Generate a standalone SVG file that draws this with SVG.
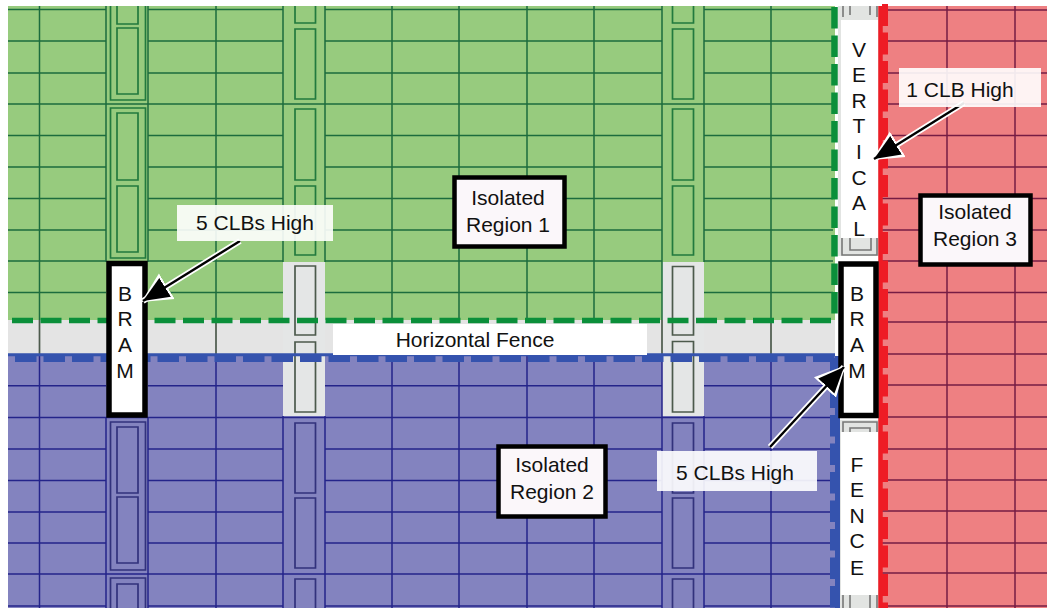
<svg xmlns="http://www.w3.org/2000/svg" width="1047" height="608" viewBox="0 0 1047 608">
<style>
text{font-family:"Liberation Sans",Arial,sans-serif;font-size:21px;fill:#111;text-anchor:middle}
.gl{fill:none;stroke:#1c6c3e;stroke-width:1.5}
.bl{fill:none;stroke:#24248a;stroke-width:1.5}
.rl{fill:none;stroke:#761c44;stroke-width:1.5}
.gb{fill:none;stroke:#227a3e;stroke-width:1.7}
.bb{fill:none;stroke:#32327c;stroke-width:1.7}
.kb{fill:none;stroke:#4c5a4c;stroke-width:1.7}
.fr{fill:none;stroke:#777;stroke-width:1.6}
.lab{fill:#fff;fill-opacity:.9}
.box{fill:#fbf7fa;stroke:#000;stroke-width:4.5}
.blk{fill:#fff;stroke:#000;stroke-width:5.5}
.halo{stroke:#fff;stroke-width:6;fill:none}
.ar{stroke:#000;stroke-width:2.4;fill:none;marker-end:url(#h)}
</style>
<defs>
<marker id="h" markerUnits="userSpaceOnUse" markerWidth="28" markerHeight="24" refX="26" refY="11" orient="auto"><path d="M0 0L26 11L0 22Z" fill="#000"/></marker>
<marker id="hw" markerUnits="userSpaceOnUse" markerWidth="34" markerHeight="34" refX="28" refY="16" orient="auto"><path d="M0 1L30 16L0 31Z" fill="#fff"/></marker>
</defs>
<rect width="1047" height="608" fill="#fff"/>
<g id="regions">
<rect x="8" y="6" width="827" height="314" fill="#97cb7e"/>
<rect x="8" y="320" width="827" height="36" fill="#e4e4e4"/>
<rect x="8" y="356" width="827" height="252" fill="#8383bf"/>
<rect x="880" y="6" width="167" height="602" fill="#ee8082"/>
<rect x="283" y="262" width="42" height="154" fill="#e4e6e6"/>
<rect x="662" y="262" width="42" height="154" fill="#e4e6e6"/>
</g>
<g id="grid">
<path class="gl" d="M8 9.5H106M148 9.500H283M325 9.500H662M704 9.500H833M8 41H106M148 41H283M325 41H662M704 41H833M8 73H106M148 73H283M325 73H662M704 73H833M8 104H833M8 135.500H106M148 135.500H283M325 135.500H662M704 135.500H833M8 167H106M148 167H283M325 167H662M704 167H833M8 198.500H106M148 198.500H283M325 198.500H662M704 198.500H833M8 230H106M148 230H283M325 230H662M704 230H833M8 261H106M148 261H283M325 261H662M704 261H833M8 292.500H106M148 292.500H283M325 292.500H662M704 292.500H833"/>
<path class="gl" d="M39.500 6V320M216 6V320M392 6V320M459 6V320M527 6V320M594 6V320M771 6V320M106 6V262M148 6V262M283 6V262M325 6V262M662 6V320M704 6V262"/>
<path class="kb" d="M39.500 320V355M216 320V355M771 320V355M662 320V355"/>
<path class="bl" d="M8 385.700H106M148 385.700H283M325 385.700H662M704 385.700H833M8 417.500H833M8 449H106M148 449H283M325 449H662M704 449H833M8 480.500H106M148 480.500H283M325 480.500H662M704 480.500H833M8 512H106M148 512H283M325 512H662M704 512H833M8 543H106M148 543H283M325 543H662M704 543H833M8 574H833M8 606H106M148 606H283M325 606H662M704 606H833"/>
<path class="bl" d="M39.500 356V608M216 356V608M392 356V608M459 356V608M527 356V608M594 356V608M771 356V608M106 418V608M148 418V608M283 416V608M325 416V608M662 356V608M704 416V608"/>
<path class="rl" d="M880 10H1047M880 41H1047M880 73H1047M880 104H1047M880 135.500H1047M880 167H1047M880 198.500H1047M880 230H1047M880 261H1047M880 292.500H1047M880 322H1047M880 354H1047M880 385H1047M880 417H1047M880 449H1047M880 480H1047M880 511H1047M880 543H1047M880 573H1047M880 606H1047"/>
<path class="rl" d="M947 6V608M1015 6V608"/>
</g>
<g id="bram-columns">
<path class="gb" d="M110.500 6V100H145.500V6M110.500 258V108H145.500V258ZM117 6V24H138V6M117 28H138V94H117ZM117 113H138V180H117ZM117 186H138V252H117Z"/>
<path class="bb" d="M110.500 608V578H145.500V608M110.500 422H145.500V570H110.500ZM117 427H138V493H117ZM117 497H138V563H117ZM117 608V584H138V608"/>
<path class="gb" d="M295 6V23H315.500V6M295 29H315.500V99H295ZM295 109H315.500V180H295ZM295 186H315.500V255H295ZM672.500 6V23H693.500V6M672.500 29H693.500V99H672.500ZM672.500 109H693.500V180H672.500ZM672.500 186H693.500V255H672.500Z"/>
<path class="kb" d="M295 266H315.500V335H295ZM295 342H315.500V412H295ZM672.500 266.500H693.500V335H672.500ZM672.500 341.500H693.500V412H672.500Z"/>
<path class="bb" d="M295 423H315.500V493H295ZM295 498H315.500V568H295ZM295 608V579H315.500V608M672.500 423H693.500V493H672.500ZM672.500 498H693.500V568H672.500ZM672.500 608V579H693.500V608"/>
</g>
<g id="fences">
<rect x="838" y="6" width="42" height="250" fill="#e2e4e2"/>
<rect x="841" y="20" width="37" height="218" fill="#fff"/>
<path class="fr" d="M843 6V17M877 6V17M850 6V15M870 6V15M842 238V255H877V238M850 238V250H871V238"/>
<rect x="838" y="420" width="42" height="188" fill="#e2e4e2"/>
<rect x="841" y="432" width="37" height="163" fill="#fff"/>
<path class="fr" d="M843 432V422H877V432M850 432V428H870V432M843 595V608M877 595V608M850 595V608M870 595V608"/>
<path fill="none" stroke="#0b8f3a" stroke-width="5.500" stroke-dasharray="21 7.500" d="M12 320.500H833"/>
<path fill="none" stroke="#3553ae" stroke-width="3" d="M8 354.800H835"/>
<path fill="none" stroke="#3553ae" stroke-width="6" stroke-dasharray="21.500 7" d="M15 359H835"/>
<path fill="none" stroke="#0b8f3a" stroke-width="6.500" stroke-dasharray="21.500 7" d="M834.500 7V320"/>
<path fill="none" stroke="#3553ae" stroke-width="5" d="M837.500 356V608"/>
<path fill="none" stroke="#3553ae" stroke-width="6" stroke-dasharray="21.500 7" d="M833 358V608"/>
<path fill="none" stroke="#ee1c25" stroke-width="4.500" d="M880.500 6V608"/>
<path fill="none" stroke="#ee1c25" stroke-width="6" stroke-dasharray="22 6.500" d="M885 4V608"/>
</g>
<g id="bram-1">
<rect class="blk" x="109" y="263.500" width="36" height="151.500"/>
<text x="125" y="301">B</text><text x="125" y="326">R</text><text x="125" y="352">A</text><text x="125" y="378">M</text>
</g>
<g id="bram-2">
<rect class="blk" x="841" y="264" width="35" height="151.500"/>
<text x="857" y="301">B</text><text x="857" y="326">R</text><text x="857" y="352">A</text><text x="857" y="378">M</text>
</g>
<g id="vertical-fence">
<text x="859" y="57">V</text><text x="859" y="82">E</text><text x="859" y="108">R</text><text x="859" y="133">T</text><text x="859" y="159">I</text><text x="859" y="185">C</text><text x="859" y="210">A</text><text x="859" y="236">L</text>
</g>
<g id="fence-label">
<text x="857" y="472">F</text><text x="857" y="497">E</text><text x="857" y="523">N</text><text x="857" y="548">C</text><text x="857" y="575">E</text>
</g>
<g id="horizontal-fence">
<rect x="333" y="324" width="314" height="31" fill="#fff"/>
<text x="475" y="347">Horizontal Fence</text>
</g>
<g id="region-1">
<rect class="box" x="454.500" y="177.500" width="110" height="69"/>
<text x="508" y="205">Isolated</text><text x="508" y="232">Region 1</text>
</g>
<g id="region-2">
<rect class="box" x="498.500" y="446.500" width="107" height="70"/>
<text x="552" y="472">Isolated</text><text x="552" y="499">Region 2</text>
</g>
<g id="region-3">
<rect class="box" x="920.500" y="195.500" width="110" height="69"/>
<text x="975" y="219">Isolated</text><text x="975" y="246">Region 3</text>
</g>
<g id="connectors">
<path class="halo" marker-end="url(#hw)" d="M240 241L143 301"/>
<path class="ar" d="M240 241L143 301"/>
<path class="halo" marker-end="url(#hw)" d="M770 447L844 367"/>
<path class="ar" d="M770 447L844 367"/>
<path class="halo" marker-end="url(#hw)" d="M964 103L874 159"/>
<path class="ar" d="M964 103L874 159"/>
</g>
<g id="callout-1">
<rect class="lab" x="177" y="205" width="156" height="36"/>
<text x="255" y="230">5 CLBs High</text>
</g>
<g id="callout-2">
<rect class="lab" x="657" y="451" width="160" height="40"/>
<text x="735" y="480">5 CLBs High</text>
</g>
<g id="callout-3">
<rect class="lab" x="899" y="68" width="142" height="39"/>
<text x="960" y="97">1 CLB High</text>
</g>
</svg>
